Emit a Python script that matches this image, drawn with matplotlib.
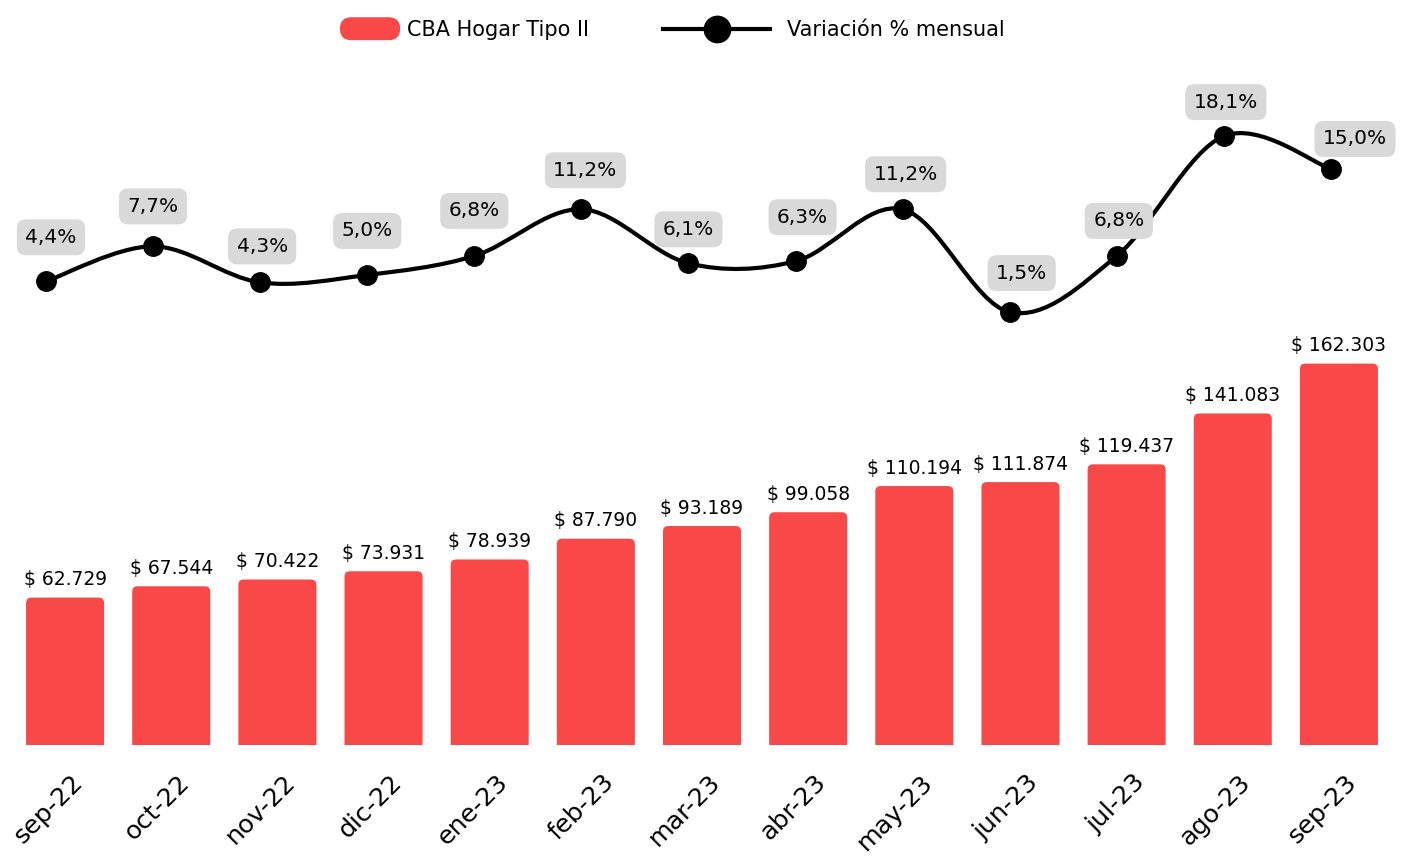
import numpy as np
import matplotlib.pyplot as plt
import matplotlib.transforms as mtransforms
from matplotlib.path import Path
from matplotlib.patches import PathPatch, FancyBboxPatch
from matplotlib.lines import Line2D
from matplotlib.legend_handler import HandlerPatch

# data
meses = ['sep-22', 'oct-22', 'nov-22', 'dic-22', 'ene-23', 'feb-23', 'mar-23',
         'abr-23', 'may-23', 'jun-23', 'jul-23', 'ago-23', 'sep-23']
cba = [62729, 67544, 70422, 73931, 78939, 87790, 93189,
       99058, 110194, 111874, 119437, 141083, 162303]
variacion = [4.4, 7.7, 4.3, 5.0, 6.8, 11.2, 6.1, 6.3, 11.2, 1.5, 6.8, 18.1, 15.0]

rojo = '#F94848'
gris = '#D9D9D9'
# label offsets from each point (pixels), as in the original layout
lab_dy = [44, 40, 36, 44, 45, 39, 34, 44, 35, 39, 35, 34, 30]
lab_dx = [5, 0, 2, 0, 0, 4, 0, 7, 3, 12, 2, 2, 24]

plt.rcParams['font.family'] = ['DejaVu Sans']

fig = plt.figure(figsize=(14.07, 8.57), dpi=100)
rect = [12/1407, 112/857, 1380/1407, 685/857]
ax = fig.add_axes(rect)
# line sits on its own axes, slightly shifted from the bars
ax2 = fig.add_axes(rect, frameon=False)

x = np.arange(len(meses))
bars = ax.bar(x, cba, width=0.735, color=rojo, alpha=0)
# rounded top corners
for b in bars:
    r = 0.05
    asp = 425.5 / 0.00942
    p = FancyBboxPatch((b.get_x(), -r * asp), b.get_width(), b.get_height() + r * asp,
                       boxstyle=f'round,pad=0,rounding_size={r}',
                       mutation_aspect=asp, fc=rojo, ec='none', clip_on=True)
    ax.add_patch(p)
for xi, v in zip(x, cba):
    ax.annotate('$ ' + f'{v:,}'.replace(',', '.'), (xi, v), xytext=(0, 6),
                textcoords='offset points', ha='center', va='bottom', fontsize=13.5)

ax.set_xlim(-0.5, 12.5)
ax.set_ylim(0, 291490)
ax.set_yticks([])
for s in ax.spines.values():
    s.set_visible(False)

ax.set_xticks(x)
ax.set_xticklabels(meses, rotation=45, ha='right', rotation_mode='anchor', fontsize=18.3)
ax.tick_params(axis='x', length=0, pad=18)
off = mtransforms.ScaledTranslation(6/100, 0, fig.dpi_scale_trans)
for t in ax.get_xticklabels():
    t.set_transform(t.get_transform() + off)

ax2.set_xlim(-0.3175, 12.570)
ax2.set_ylim(-39.34, 25.28)
ax2.set_xticks([])
ax2.set_yticks([])

# smooth line (Catmull-Rom as cubic Bezier)
pts = np.column_stack([x, variacion]).astype(float)
ext = np.vstack([pts[0], pts, pts[-1]])
verts = [pts[0]]
codes = [Path.MOVETO]
for i in range(len(pts) - 1):
    p0, p1, p2, p3 = ext[i], ext[i + 1], ext[i + 2], ext[i + 3]
    verts += [p1 + (p2 - p0) / 6, p2 - (p3 - p1) / 6, p2]
    codes += [Path.CURVE4] * 3
ax2.add_patch(PathPatch(Path(verts, codes), fc='none', ec='black', lw=3, capstyle='round'))
ax2.plot(x, variacion, 'o', color='black', ms=14, zorder=5)
for xi, v, dx, dy in zip(x, variacion, lab_dx, lab_dy):
    ax2.annotate(f'{v:.1f}%'.replace('.', ','), (xi, v), xytext=(dx * 0.72, dy * 0.72),
                 textcoords='offset points', ha='center', va='center', fontsize=14.5,
                 bbox=dict(boxstyle='round,pad=0.42,rounding_size=0.45', fc=gris, ec='none'))


class HandlerRound(HandlerPatch):
    def create_artists(self, legend, orig_handle, xdescent, ydescent, width, height, fontsize, trans):
        p = FancyBboxPatch((-xdescent, -ydescent - 3), width, height + 6,
                           boxstyle='round,pad=0,rounding_size=8', fc=rojo, ec='none',
                           transform=trans)
        return [p]


h1 = FancyBboxPatch((0, 0), 1, 1, fc=rojo)
h2 = Line2D([], [], color='black', lw=3, marker='o', ms=19)
fs = 15
fig.legend([h1], ['CBA Hogar Tipo II'], handler_map={FancyBboxPatch: HandlerRound()},
           loc='upper left', bbox_to_anchor=(340/1407, 1 - 20/857), frameon=False,
           fontsize=fs, handlelength=60/20.8, handletextpad=0.33,
           borderpad=0, borderaxespad=0)
fig.legend([h2], ['Variación % mensual'],
           loc='upper left', bbox_to_anchor=(663/1407, 1 - 20/857), frameon=False,
           fontsize=fs, handlelength=107/20.8, handletextpad=0.8,
           borderpad=0, borderaxespad=0)

fig.savefig('out.png', dpi=100)
